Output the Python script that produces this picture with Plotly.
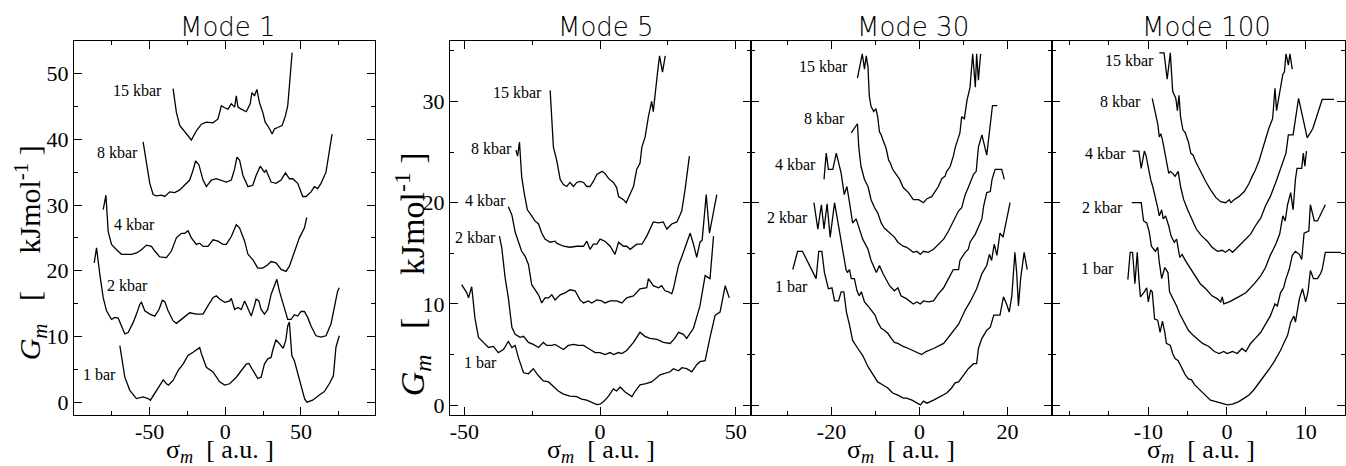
import plotly.graph_objects as go

# ---------------- data ----------------
MODES = ["Mode 1", "Mode 5", "Mode 30", "Mode 100"]
PRESSURES = ["1 bar", "2 kbar", "4 kbar", "8 kbar", "15 kbar"]

# Mode 1
M1_1BAR_X = [-69.7, -66.4, -63.1, -58.7, -54.3, -51.0, -49.5, -46.6, -42.2, -41.0, -38.9, -37.5, -34.5, -31.2, -27.9, -24.6, -21.3, -19.1, -16.9, -15.8, -12.5, -8.1, -3.7, -0.4, 2.9, 7.3, 10.6, 13.9, 15.6, 18.2, 21.5, 23.7, 25.9, 28.1, 30.3, 31.4, 33.5, 35.8, 38.3, 40.0, 41.3, 42.4, 44.0, 45.7, 49.0, 52.5, 54.0, 57.8, 62.2, 65.5, 68.8, 71.5, 73.2, 75.4]
M1_1BAR_Y = [8.6, 3.8, 1.8, 0.55, 0.8, 0.55, 0.3, 1.3, 2.8, 3.4, 2.8, 2.6, 3.3, 4.8, 5.8, 7.1, 7.6, 8.0, 8.3, 7.4, 5.3, 4.6, 3.1, 2.6, 2.8, 3.8, 4.8, 5.8, 5.9, 4.8, 3.6, 3.8, 5.8, 6.6, 6.8, 7.9, 9.5, 8.9, 8.2, 9.4, 11.6, 12.2, 7.1, 6.3, 3.3, 0.5, 0.0, 0.3, 1.1, 1.6, 2.8, 4.0, 8.4, 10.1]
M1_2KBAR_X = [-86.6, -85.1, -82.9, -80.7, -78.5, -75.2, -73.0, -70.8, -68.6, -66.4, -64.2, -60.9, -58.7, -56.5, -55.4, -53.2, -49.9, -46.6, -43.8, -41.6, -40.0, -37.8, -34.5, -32.3, -29.0, -23.5, -19.1, -14.7, -11.4, -8.1, -5.9, -3.7, -0.4, 2.9, 4.0, 6.2, 8.4, 10.6, 12.8, 15.0, 17.2, 19.3, 20.4, 22.2, 23.7, 25.9, 28.1, 30.3, 32.6, 34.1, 35.8, 39.1, 41.3, 43.5, 45.7, 47.9, 50.1, 52.3, 54.5, 56.7, 60.0, 63.3, 66.6, 69.9, 72.1, 74.3, 75.4]
M1_2KBAR_Y = [21.2, 23.5, 19.4, 15.9, 13.9, 12.6, 12.9, 12.8, 11.6, 10.4, 10.6, 12.1, 13.4, 14.9, 15.2, 13.9, 13.4, 13.1, 14.1, 15.5, 15.3, 13.9, 12.4, 12.0, 12.6, 13.6, 13.4, 13.4, 14.7, 15.9, 16.2, 15.7, 15.2, 15.4, 15.8, 14.1, 14.4, 14.1, 15.4, 14.1, 13.1, 14.7, 15.7, 15.4, 14.1, 13.4, 14.1, 16.4, 17.9, 18.7, 16.9, 14.4, 12.6, 12.6, 13.3, 13.1, 13.8, 13.8, 12.9, 11.6, 10.1, 9.9, 10.1, 11.9, 14.4, 16.9, 17.4]
M1_4KBAR_X = [-80.7, -78.9, -77.4, -75.2, -71.9, -68.6, -65.3, -62.0, -58.7, -55.4, -52.1, -48.8, -46.6, -43.3, -38.9, -35.6, -32.3, -29.0, -26.8, -24.6, -22.4, -19.1, -16.9, -14.7, -11.4, -8.1, -4.8, -1.5, 0.7, 4.0, 7.3, 9.5, 12.8, 15.0, 18.2, 21.5, 24.8, 28.1, 30.3, 33.6, 36.9, 40.2, 42.4, 45.7, 49.0, 52.3, 53.9]
M1_4KBAR_Y = [29.3, 31.5, 26.0, 24.0, 23.2, 22.5, 22.5, 22.5, 22.7, 23.2, 23.9, 23.7, 23.0, 22.1, 22.0, 23.0, 25.0, 25.7, 25.7, 26.1, 25.0, 24.0, 24.2, 23.7, 23.7, 24.7, 24.5, 24.0, 24.0, 25.2, 27.0, 26.5, 24.5, 22.5, 21.7, 20.4, 20.4, 20.9, 21.4, 21.2, 20.2, 19.9, 20.7, 22.7, 25.0, 26.5, 28.1]
M1_8KBAR_X = [-54.3, -52.1, -49.9, -47.7, -45.5, -42.2, -40.0, -36.7, -33.4, -30.1, -26.8, -23.5, -21.3, -19.6, -17.4, -14.7, -12.5, -9.2, -5.9, -2.6, 0.7, 4.0, 6.2, 7.7, 9.5, 11.7, 15.0, 18.2, 20.4, 23.1, 25.9, 27.0, 30.3, 33.6, 36.9, 39.8, 42.4, 44.6, 47.9, 51.2, 53.4, 56.7, 58.9, 61.1, 63.3, 66.6, 68.8, 70.6]
M1_8KBAR_Y = [39.6, 36.1, 33.3, 31.6, 31.4, 31.5, 31.3, 32.0, 31.9, 32.3, 33.0, 33.8, 35.3, 36.7, 36.1, 33.8, 32.8, 33.8, 34.0, 33.8, 33.5, 33.8, 35.5, 37.3, 36.8, 34.5, 32.8, 33.0, 34.5, 35.9, 35.0, 35.3, 33.5, 33.3, 33.8, 34.9, 34.0, 34.0, 33.3, 31.3, 31.3, 32.0, 32.8, 32.5, 33.3, 35.0, 38.1, 40.8]
M1_15KBAR_X = [-34.5, -32.3, -30.1, -26.8, -23.5, -22.4, -19.1, -15.8, -12.5, -8.1, -4.8, -2.6, -0.4, 1.8, 4.0, 6.2, 7.3, 8.4, 10.6, 13.9, 16.5, 17.6, 19.3, 20.9, 22.6, 24.8, 26.4, 28.8, 31.0, 32.6, 34.7, 37.6, 39.8, 41.3, 42.4, 44.2]
M1_15KBAR_Y = [47.7, 44.1, 42.1, 41.1, 40.1, 39.9, 41.3, 42.3, 42.6, 42.5, 43.1, 45.1, 44.8, 44.6, 45.4, 44.9, 46.6, 44.9, 44.6, 44.2, 45.4, 47.1, 46.6, 47.6, 45.6, 44.1, 42.6, 41.8, 40.8, 41.6, 41.8, 42.1, 43.6, 45.1, 48.1, 53.2]

# Mode 5
M5_1BAR_X = [-51.0, -49.1, -48.5, -47.3, -46.1, -44.8, -43.0, -41.1, -39.3, -37.5, -35.6, -33.8, -32.5, -31.3, -30.1, -28.2, -26.4, -24.6, -22.7, -20.9, -19.0, -17.2, -15.4, -13.5, -11.1, -8.6, -6.8, -4.9, -3.1, -1.2, 0.0, 1.5, 3.1, 4.9, 6.1, 7.4, 9.2, 11.7, 13.0, 14.7, 16.5, 19.0, 22.1, 25.8, 27.0, 28.9, 30.1, 31.9, 33.8, 35.6, 36.8, 38.7, 40.5, 42.4, 44.2, 46.1, 47.6]
M5_1BAR_Y = [11.9, 11.1, 10.6, 11.7, 8.6, 6.7, 6.2, 5.7, 5.8, 5.2, 5.5, 6.3, 5.7, 5.9, 4.7, 3.2, 3.1, 3.6, 2.9, 2.4, 2.3, 1.8, 1.4, 1.1, 0.9, 0.85, 0.6, 0.5, 0.3, 0.07, 0.1, 0.4, 0.9, 1.6, 1.4, 1.8, 1.3, 0.85, 1.4, 2.0, 2.1, 2.3, 3.0, 3.3, 3.6, 3.4, 3.7, 3.6, 3.3, 4.0, 4.3, 4.4, 6.7, 8.9, 9.2, 11.8, 10.6]
M5_2KBAR_X = [-37.1, -36.2, -35.0, -33.8, -32.5, -31.3, -29.5, -28.2, -26.4, -24.6, -22.7, -20.9, -19.7, -17.8, -16.6, -14.7, -13.5, -11.7, -9.8, -8.0, -6.1, -3.7, -1.8, 0.0, 1.8, 3.7, 4.9, 6.8, 8.0, 9.8, 12.3, 14.7, 16.5, 18.4, 21.0, 23.3, 25.8, 27.5, 28.9, 30.7, 31.9, 34.4, 36.8, 38.7, 40.5, 41.8]
M5_2KBAR_Y = [16.7, 15.5, 12.6, 10.6, 7.7, 7.0, 6.7, 6.8, 6.2, 6.0, 5.7, 6.2, 5.9, 5.9, 6.0, 5.7, 5.5, 5.9, 6.0, 5.9, 5.9, 5.5, 5.2, 5.2, 5.0, 5.2, 5.0, 5.2, 5.1, 5.4, 6.2, 7.2, 6.8, 6.6, 6.5, 6.2, 6.1, 6.6, 7.2, 7.0, 6.6, 7.6, 9.8, 12.8, 12.5, 16.7]
M5_4KBAR_X = [-33.8, -32.5, -31.3, -30.1, -28.9, -27.6, -26.4, -25.2, -24.0, -22.7, -21.5, -20.3, -19.0, -17.8, -16.6, -14.7, -12.9, -11.1, -9.2, -7.4, -6.1, -4.3, -3.1, -1.2, 0.6, 1.8, 3.7, 6.1, 8.0, 9.8, 12.3, 14.7, 17.2, 17.8, 19.6, 21.5, 22.7, 23.9, 25.2, 26.4, 27.0, 28.9, 30.7, 33.2, 34.4, 35.6, 36.8, 37.6, 39.1, 40.3, 43.0]
M5_4KBAR_Y = [19.6, 18.8, 17.1, 16.2, 15.2, 14.7, 13.9, 11.9, 11.4, 10.9, 10.1, 10.6, 10.6, 10.9, 10.4, 10.9, 11.1, 11.4, 11.3, 10.4, 10.1, 10.3, 10.1, 10.4, 10.3, 10.1, 10.3, 10.3, 10.1, 10.6, 10.8, 11.5, 11.6, 12.5, 11.8, 11.6, 11.8, 11.3, 11.2, 11.0, 11.5, 13.8, 15.1, 17.0, 15.9, 14.6, 16.1, 16.3, 20.8, 17.0, 20.8]
M5_8KBAR_X = [-31.0, -30.4, -29.7, -29.3, -28.9, -28.0, -26.8, -25.2, -24.0, -22.7, -21.5, -20.3, -18.4, -16.6, -16.0, -13.5, -11.1, -8.6, -6.1, -4.9, -3.7, -2.5, -1.2, 0.0, 1.8, 3.7, 5.5, 6.8, 8.6, 9.8, 11.1, 13.5, 15.4, 17.2, 19.6, 21.5, 23.3, 24.0, 24.6, 26.4, 28.3, 29.5, 30.1, 31.3, 32.9]
M5_8KBAR_Y = [25.2, 24.6, 26.0, 24.0, 22.6, 21.0, 19.3, 18.7, 18.2, 17.9, 17.0, 16.4, 16.1, 16.2, 16.0, 15.7, 15.6, 15.7, 15.7, 16.2, 15.4, 15.9, 15.9, 16.4, 16.2, 15.7, 14.9, 16.1, 15.7, 15.7, 15.4, 15.9, 15.9, 16.7, 18.1, 18.0, 18.1, 17.7, 17.4, 17.9, 18.1, 18.8, 19.2, 21.3, 24.6]
M5_15KBAR_X = [-18.4, -17.8, -17.2, -16.0, -14.7, -13.5, -12.3, -11.1, -9.8, -8.6, -7.4, -6.1, -4.9, -3.7, -2.5, -1.2, 0.7, 1.8, 3.1, 4.9, 6.1, 6.8, 8.6, 9.6, 11.1, 12.3, 13.5, 14.7, 15.4, 16.6, 17.8, 19.0, 19.6, 20.3, 21.1, 21.9, 23.0, 24.0]
M5_15KBAR_Y = [31.1, 28.5, 25.5, 24.2, 22.3, 21.8, 21.6, 22.0, 21.6, 22.0, 22.1, 22.0, 21.6, 21.6, 22.1, 22.8, 23.1, 22.9, 22.4, 22.0, 21.5, 20.6, 20.3, 20.0, 20.8, 21.6, 23.3, 23.9, 25.5, 26.5, 28.5, 30.0, 29.0, 31.1, 32.7, 34.5, 32.9, 34.5]

# Mode 30
M30_1BAR_X = [-28.8, -27.7, -26.6, -25.4, -24.2, -23.5, -22.9, -22.2, -21.6, -20.7, -19.9, -19.3, -18.4, -17.8, -17.2, -16.6, -15.9, -15.2, -14.0, -12.9, -11.7, -10.6, -9.5, -8.3, -7.2, -6.1, -4.9, -3.7, -2.9, -1.7, -0.6, 0.2, 0.9, 1.7, 3.2, 4.7, 6.2, 7.3, 8.1, 8.9, 10.0, 11.1, 12.3, 13.0, 13.4, 14.2, 15.3, 16.1, 16.9, 18.3, 19.1, 19.8, 20.4, 21.0, 21.7, 22.1, 22.5, 23.0, 23.8, 24.5]
M30_1BAR_Y = [13.4, 15.2, 15.2, 14.1, 13.1, 12.5, 15.2, 15.2, 13.1, 11.5, 11.6, 10.3, 10.3, 11.2, 11.2, 9.2, 7.9, 6.4, 5.6, 4.9, 3.8, 3.0, 2.3, 2.0, 1.7, 1.2, 1.0, 0.7, 0.7, 0.5, 0.2, 0.03, 0.4, 0.2, 0.5, 0.85, 1.2, 1.7, 2.2, 2.3, 3.0, 3.6, 4.1, 4.1, 5.6, 6.6, 7.4, 7.7, 8.9, 8.9, 10.7, 10.0, 9.2, 10.8, 15.1, 13.1, 9.8, 12.5, 15.1, 13.4]
M30_2KBAR_X = [-24.0, -23.1, -22.3, -21.7, -21.0, -20.3, -19.3, -18.6, -18.0, -17.5, -16.7, -16.4, -15.9, -15.5, -14.8, -14.2, -13.7, -13.2, -12.5, -11.7, -11.0, -10.1, -9.5, -8.7, -8.0, -7.2, -6.4, -5.7, -4.9, -3.7, -2.5, -1.5, 0.5, 1.5, 3.2, 5.5, 7.0, 8.9, 10.4, 11.5, 13.0, 14.2, 15.3, 15.9, 16.4, 17.0, 17.6, 18.3, 19.0, 19.7, 20.6]
M30_2KBAR_Y = [20.0, 17.4, 19.8, 17.4, 19.9, 16.6, 20.0, 18.2, 16.4, 15.1, 13.4, 13.1, 13.4, 12.5, 12.5, 11.3, 10.8, 11.2, 10.2, 9.8, 9.4, 8.9, 8.2, 7.6, 7.4, 7.1, 6.6, 6.2, 6.1, 5.8, 5.6, 5.4, 5.0, 5.3, 5.6, 6.1, 6.9, 8.0, 9.4, 10.2, 11.5, 13.0, 13.8, 14.9, 14.3, 15.9, 14.8, 17.0, 16.6, 18.0, 20.0]
M30_4KBAR_X = [-21.7, -21.2, -20.7, -19.7, -18.9, -18.4, -17.8, -17.1, -16.5, -15.9, -15.2, -14.4, -13.7, -12.9, -11.7, -11.0, -9.8, -9.1, -8.3, -7.6, -6.8, -5.7, -4.9, -4.2, -2.9, -1.4, -0.6, 0.2, 0.9, 2.0, 3.2, 4.3, 5.5, 6.6, 7.7, 8.9, 9.2, 10.4, 11.1, 11.5, 12.7, 13.8, 14.2, 14.6, 15.3, 16.1, 16.5, 17.2, 18.7, 19.3]
M30_4KBAR_Y = [22.3, 24.9, 23.3, 23.3, 24.9, 23.9, 22.9, 20.8, 21.6, 20.0, 18.0, 18.4, 17.4, 16.4, 15.4, 14.3, 13.1, 13.8, 13.0, 12.5, 11.8, 11.3, 11.6, 10.8, 10.5, 10.0, 10.2, 10.0, 10.3, 10.2, 10.3, 11.0, 11.6, 12.5, 13.4, 13.4, 14.3, 15.1, 15.4, 16.1, 16.9, 18.0, 18.4, 19.7, 21.0, 21.1, 22.3, 23.3, 23.3, 22.3]
M30_8KBAR_X = [-15.5, -14.1, -13.8, -13.3, -12.5, -11.7, -11.0, -10.2, -9.5, -8.7, -8.0, -7.2, -6.4, -5.7, -4.9, -3.7, -2.9, -1.4, -0.6, 0.2, 0.9, 2.0, 3.2, 4.3, 5.5, 6.6, 7.7, 8.9, 9.6, 10.4, 11.1, 11.9, 12.3, 12.9, 13.4, 14.2, 14.7, 15.3, 15.7, 16.1, 16.6, 17.7]
M30_8KBAR_Y = [26.9, 27.8, 25.5, 23.6, 22.3, 21.6, 20.3, 19.5, 19.0, 18.0, 17.5, 17.2, 16.9, 16.6, 16.1, 15.7, 15.6, 15.1, 15.2, 14.9, 15.2, 15.1, 15.4, 15.9, 16.4, 17.2, 18.2, 19.2, 19.5, 20.8, 21.5, 22.3, 22.8, 23.1, 25.5, 26.7, 25.9, 24.7, 26.2, 27.7, 29.6, 29.6]
M30_15KBAR_X = [-14.1, -13.4, -13.0, -12.5, -12.1, -11.7, -11.6, -11.4, -11.0, -10.4, -9.9, -9.5, -9.1, -8.7, -8.3, -7.6, -7.0, -6.6, -6.1, -5.3, -4.5, -3.7, -3.3, -2.5, -1.4, -0.2, 0.9, 1.7, 2.8, 3.6, 4.3, 5.1, 5.8, 6.2, 7.0, 7.7, 8.1, 8.9, 9.2, 9.6, 10.2, 10.8, 11.5, 12.1, 12.7, 13.0, 13.4, 13.9]
M30_15KBAR_Y = [32.3, 34.1, 34.7, 33.2, 34.5, 33.4, 31.8, 30.5, 29.5, 29.0, 29.3, 28.5, 27.0, 26.7, 26.2, 25.4, 24.2, 23.9, 23.3, 22.8, 22.3, 21.5, 21.3, 21.0, 20.3, 20.3, 20.0, 20.4, 20.6, 21.1, 21.6, 22.4, 22.6, 23.1, 23.6, 24.6, 25.4, 26.5, 26.9, 28.5, 28.3, 30.1, 31.4, 34.7, 31.4, 34.7, 32.1, 34.7]

# Mode 100
M100_1BAR_X = [-12.6, -12.3, -12.0, -11.7, -11.5, -11.4, -11.2, -11.0, -10.5, -10.2, -10.0, -9.7, -9.5, -9.2, -8.8, -8.5, -8.2, -7.9, -7.7, -7.2, -6.9, -6.6, -6.2, -5.8, -5.3, -4.9, -4.5, -4.1, -3.4, -2.7, -2.1, -1.4, -0.6, 0.05, 0.7, 1.5, 2.2, 2.8, 3.4, 4.1, 4.7, 5.3, 6.0, 6.4, 6.8, 7.2, 7.7, 8.1, 8.5, 8.7, 9.2, 9.6, 10.0, 10.3, 10.6, 11.0, 11.5, 11.9, 12.1, 12.5, 14.5]
M100_1BAR_Y = [12.4, 15.1, 15.1, 12.0, 14.1, 15.1, 12.5, 10.7, 11.2, 11.6, 10.2, 11.4, 11.2, 8.5, 8.4, 7.2, 8.3, 7.2, 6.1, 5.9, 5.1, 4.6, 4.4, 3.8, 3.0, 2.6, 2.5, 2.0, 1.5, 1.0, 0.5, 0.35, 0.2, 0.03, 0.1, 0.35, 0.7, 1.0, 1.5, 2.2, 2.8, 3.5, 4.3, 4.8, 5.4, 6.1, 6.9, 8.2, 8.8, 8.2, 10.5, 11.5, 10.2, 11.2, 13.3, 12.5, 12.5, 13.0, 13.4, 15.1, 15.1]
M100_2KBAR_X = [-12.1, -10.9, -10.6, -10.2, -9.9, -9.6, -9.1, -8.8, -8.6, -8.3, -7.9, -7.5, -7.3, -6.8, -6.4, -6.0, -5.5, -4.9, -4.3, -3.6, -3.1, -2.3, -1.6, -1.0, -0.4, 0.0, 0.7, 1.3, 1.9, 2.4, 3.0, 3.6, 4.3, 4.9, 5.5, 6.1, 6.4, 6.8, 7.2, 7.5, 7.9, 8.3, 8.7, 9.2, 9.5, 9.8, 10.4, 10.6, 11.1, 11.5, 12.5]
M100_2KBAR_Y = [20.0, 20.0, 18.2, 18.0, 17.2, 15.7, 15.2, 15.6, 14.1, 12.5, 13.6, 13.1, 11.2, 10.5, 9.8, 9.0, 8.2, 7.4, 6.9, 6.4, 6.1, 5.8, 5.3, 5.1, 5.3, 5.1, 5.3, 5.1, 5.6, 5.3, 6.1, 6.6, 7.2, 8.0, 8.8, 10.0, 9.8, 11.1, 11.6, 12.5, 13.4, 14.8, 15.2, 14.9, 14.4, 17.0, 17.2, 19.8, 18.2, 18.2, 19.8]
M100_4KBAR_X = [-12.0, -11.2, -10.9, -10.5, -10.3, -9.7, -9.4, -9.1, -8.8, -8.6, -8.3, -8.1, -7.8, -7.4, -7.1, -6.7, -6.4, -6.0, -5.7, -5.3, -4.7, -4.1, -3.4, -2.7, -1.9, -1.2, -0.8, -0.6, -0.4, 0.3, 1.1, 1.7, 2.4, 3.0, 3.6, 4.3, 4.9, 5.5, 6.2, 6.7, 7.1, 7.4, 7.7, 8.1, 8.4, 8.7, 8.9, 9.5, 9.7, 9.9, 10.1]
M100_4KBAR_Y = [25.1, 25.1, 23.4, 25.1, 24.7, 22.3, 21.5, 20.6, 19.5, 18.7, 19.3, 18.4, 18.7, 17.7, 16.7, 16.1, 16.4, 14.6, 14.9, 14.3, 13.6, 12.8, 12.0, 11.5, 10.8, 10.5, 10.2, 10.7, 10.0, 10.2, 10.5, 10.8, 11.1, 11.6, 12.1, 12.8, 13.6, 14.8, 15.9, 16.9, 18.7, 18.2, 19.8, 21.0, 19.3, 22.3, 23.4, 23.4, 24.9, 23.6, 25.1]
M100_8KBAR_X = [-9.5, -9.1, -8.8, -8.6, -8.4, -8.2, -7.9, -7.6, -7.4, -7.2, -6.9, -6.6, -6.2, -5.9, -5.5, -5.0, -4.5, -3.9, -3.3, -2.5, -1.9, -1.2, -0.6, -0.2, 0.3, 0.7, 1.1, 1.7, 2.4, 3.0, 3.6, 4.3, 4.9, 5.5, 6.2, 6.8, 7.5, 7.8, 8.4, 9.1, 9.7, 10.2, 10.9, 12.1, 13.6]
M100_8KBAR_Y = [30.3, 29.0, 27.8, 26.5, 26.8, 26.2, 24.9, 23.7, 22.9, 23.1, 22.9, 22.6, 23.1, 21.6, 20.3, 19.3, 18.4, 17.4, 16.8, 16.2, 15.6, 15.2, 15.3, 15.1, 15.4, 15.1, 15.4, 15.9, 16.4, 16.9, 17.7, 18.5, 19.7, 20.6, 22.0, 23.3, 24.9, 26.7, 26.7, 30.3, 28.1, 26.4, 27.3, 30.2, 30.2]
M100_15KBAR_X = [-8.6, -8.0, -7.6, -7.2, -6.9, -6.7, -6.5, -6.3, -6.1, -5.9, -5.6, -5.3, -4.9, -4.6, -4.3, -4.0, -3.4, -2.7, -2.1, -1.4, -0.8, -0.2, 0.3, 0.5, 0.9, 1.5, 2.2, 2.8, 3.2, 3.6, 4.1, 4.5, 4.9, 5.3, 5.8, 6.1, 6.3, 6.6, 6.9, 7.1, 7.3, 7.5, 7.8, 8.0, 8.3]
M100_15KBAR_Y = [34.8, 34.8, 32.2, 34.8, 31.0, 30.6, 30.3, 29.1, 30.6, 28.5, 27.2, 26.9, 26.0, 24.9, 24.7, 24.1, 23.1, 22.1, 21.3, 20.5, 20.1, 20.0, 20.3, 20.0, 20.3, 20.6, 21.1, 21.9, 22.6, 23.2, 24.2, 25.2, 26.2, 27.3, 28.3, 31.3, 29.1, 30.4, 31.9, 32.7, 32.9, 34.7, 33.6, 34.7, 33.2]

# label anchor points (right end of each pressure label) per mode: [1 bar, 2, 4, 8, 15 kbar]
M1_LABEL_X = [-70.8, -49.9, -45.1, -56.5, -40.7]
M1_LABEL_Y = [4.2, 17.8, 27.0, 38.0, 47.5]
M5_LABEL_X = [-37.1, -37.5, -33.8, -31.9, -20.6]
M5_LABEL_Y = [4.2, 16.6, 20.2, 25.4, 30.9]
M30_LABEL_X = [-25.0, -25.0, -23.1, -16.4, -15.9]
M30_LABEL_Y = [11.7, 18.5, 23.8, 28.3, 33.5]
M100_LABEL_X = [-14.1, -13.0, -12.6, -10.7, -9.0]
M100_LABEL_Y = [13.5, 19.5, 24.9, 30.0, 34.0]

# axes
X_RANGES = [[-100, 99], [-55.3, 55.6], [-38.3, 30.2], [-22.2, 15.0]]
Y_RANGES = [[-2, 55], [-1, 36], [-1, 36], [-1, 36]]
X_TICKS = [[-50, 0, 50], [-50, 0, 50], [-20, 0, 20], [-10, 0, 10]]
X_MINOR = [[-75, -25, 25, 75], [-25, 25], [-30, -10, 10, 30], [-20, -15, -5, 5, 15]]
Y_TICKS = [[0, 10, 20, 30, 40, 50], [0, 10, 20, 30], [0, 10, 20, 30], [0, 10, 20, 30]]
Y_MINOR = [[5, 15, 25, 35, 45], [5, 15, 25, 35], [5, 15, 25, 35], [5, 15, 25, 35]]

CURVES = [
    [(M1_1BAR_X, M1_1BAR_Y), (M1_2KBAR_X, M1_2KBAR_Y), (M1_4KBAR_X, M1_4KBAR_Y), (M1_8KBAR_X, M1_8KBAR_Y), (M1_15KBAR_X, M1_15KBAR_Y)],
    [(M5_1BAR_X, M5_1BAR_Y), (M5_2KBAR_X, M5_2KBAR_Y), (M5_4KBAR_X, M5_4KBAR_Y), (M5_8KBAR_X, M5_8KBAR_Y), (M5_15KBAR_X, M5_15KBAR_Y)],
    [(M30_1BAR_X, M30_1BAR_Y), (M30_2KBAR_X, M30_2KBAR_Y), (M30_4KBAR_X, M30_4KBAR_Y), (M30_8KBAR_X, M30_8KBAR_Y), (M30_15KBAR_X, M30_15KBAR_Y)],
    [(M100_1BAR_X, M100_1BAR_Y), (M100_2KBAR_X, M100_2KBAR_Y), (M100_4KBAR_X, M100_4KBAR_Y), (M100_8KBAR_X, M100_8KBAR_Y), (M100_15KBAR_X, M100_15KBAR_Y)],
]
LABELS = [(M1_LABEL_X, M1_LABEL_Y), (M5_LABEL_X, M5_LABEL_Y), (M30_LABEL_X, M30_LABEL_Y), (M100_LABEL_X, M100_LABEL_Y)]

# ---------------- layout geometry (pixels) ----------------
W, H = 1346, 466
PANEL_PX = [(74, 375), (450, 751), (751, 1052.3), (1052.3, 1345)]
TOP_PX, BOT_PX = 41, 418
TITLE_CX = [228, 606, 913, 1206]
XTITLE_CX = [220, 601, 901, 1201]

SERIF = "Liberation Serif"
NB = "\u00a0"
fig = go.Figure()

for i in range(4):
    sfx = "" if i == 0 else str(i + 1)
    for (xs, ys) in CURVES[i]:
        fig.add_trace(go.Scatter(x=xs, y=ys, mode="lines",
                                 line=dict(color="black", width=1.3),
                                 xaxis="x" + sfx, yaxis="y" + sfx,
                                 showlegend=False, hoverinfo="skip"))
    x0, x1 = PANEL_PX[i]
    common = dict(showline=True, linecolor="black", linewidth=1.2, mirror="ticks",
                  ticks="inside", ticklen=8, tickwidth=1.1, tickcolor="black",
                  showgrid=False, zeroline=False,
                  tickfont=dict(family=SERIF, size=22, color="black"))
    fig.layout["xaxis" + sfx] = dict(
        common, domain=[x0 / W, x1 / W], range=X_RANGES[i], anchor="y" + sfx,
        tickmode="array", tickvals=X_TICKS[i], ticktext=[str(v) for v in X_TICKS[i]],
        ticklabelstandoff=-4,
        minor=dict(tickmode="array", tickvals=X_MINOR[i], ticks="inside", ticklen=4,
                   tickwidth=1.1, tickcolor="black", showgrid=False))
    fig.layout["yaxis" + sfx] = dict(
        common, domain=[1 - BOT_PX / H, 1 - TOP_PX / H], range=Y_RANGES[i], anchor="x" + sfx,
        tickmode="array", tickvals=Y_TICKS[i], ticktext=[str(v) for v in Y_TICKS[i]],
        showticklabels=(i < 2),
        minor=dict(tickmode="array", tickvals=Y_MINOR[i], ticks="inside", ticklen=4,
                   tickwidth=1.1, tickcolor="black", showgrid=False))

    # pressure labels
    lx, ly = LABELS[i]
    for k, name in enumerate(PRESSURES):
        fig.add_annotation(x=lx[k], y=ly[k], xref="x" + sfx, yref="y" + sfx,
                           text=name, showarrow=False, xanchor="right", yanchor="middle",
                           font=dict(family=SERIF, size=16, color="black"))
    # panel title
    fig.add_annotation(x=TITLE_CX[i] / W, y=1 - 27 / H, xref="paper", yref="paper",
                       text=MODES[i], showarrow=False, xanchor="center", yanchor="middle",
                       font=dict(family="DejaVu Sans", size=26, color="black", weight=300))
    # x-axis title
    fig.add_annotation(x=XTITLE_CX[i] / W, y=1 - 454 / H, xref="paper", yref="paper",
                       text="σ<sub><i>m</i></sub>" + NB * 2 + "[ a.u. ]", showarrow=False,
                       xanchor="center", yanchor="middle",
                       font=dict(family=SERIF, size=26, color="black"))

# y-axis titles (panels 1 and 2)
YT1 = "<i>G<sub>m</sub></i>" + NB * 3 + "[" + NB * 5 + "kJmol<sup>-1</sup>" + NB + "]"
YT2 = "<i>G<sub>m</sub></i>" + NB * 3 + "[" + NB * 5 + "kJmol<sup>-1</sup>" + NB + "]"
fig.add_annotation(x=30 / W, y=1 - 255 / H, xref="paper", yref="paper", text=YT1,
                   textangle=-90, showarrow=False, xanchor="center", yanchor="middle",
                   font=dict(family=SERIF, size=30, color="black"))
fig.add_annotation(x=412 / W, y=1 - 276 / H, xref="paper", yref="paper", text=YT2,
                   textangle=-90, showarrow=False, xanchor="center", yanchor="middle",
                   font=dict(family=SERIF, size=34, color="black"))

fig.update_layout(width=W, height=H, margin=dict(l=0, r=0, t=0, b=0),
                  paper_bgcolor="white", plot_bgcolor="white", showlegend=False)

fig.write_html("out.html", config={"displayModeBar": False},
               post_script="document.body.style.margin='0';document.body.style.overflow='hidden';")
